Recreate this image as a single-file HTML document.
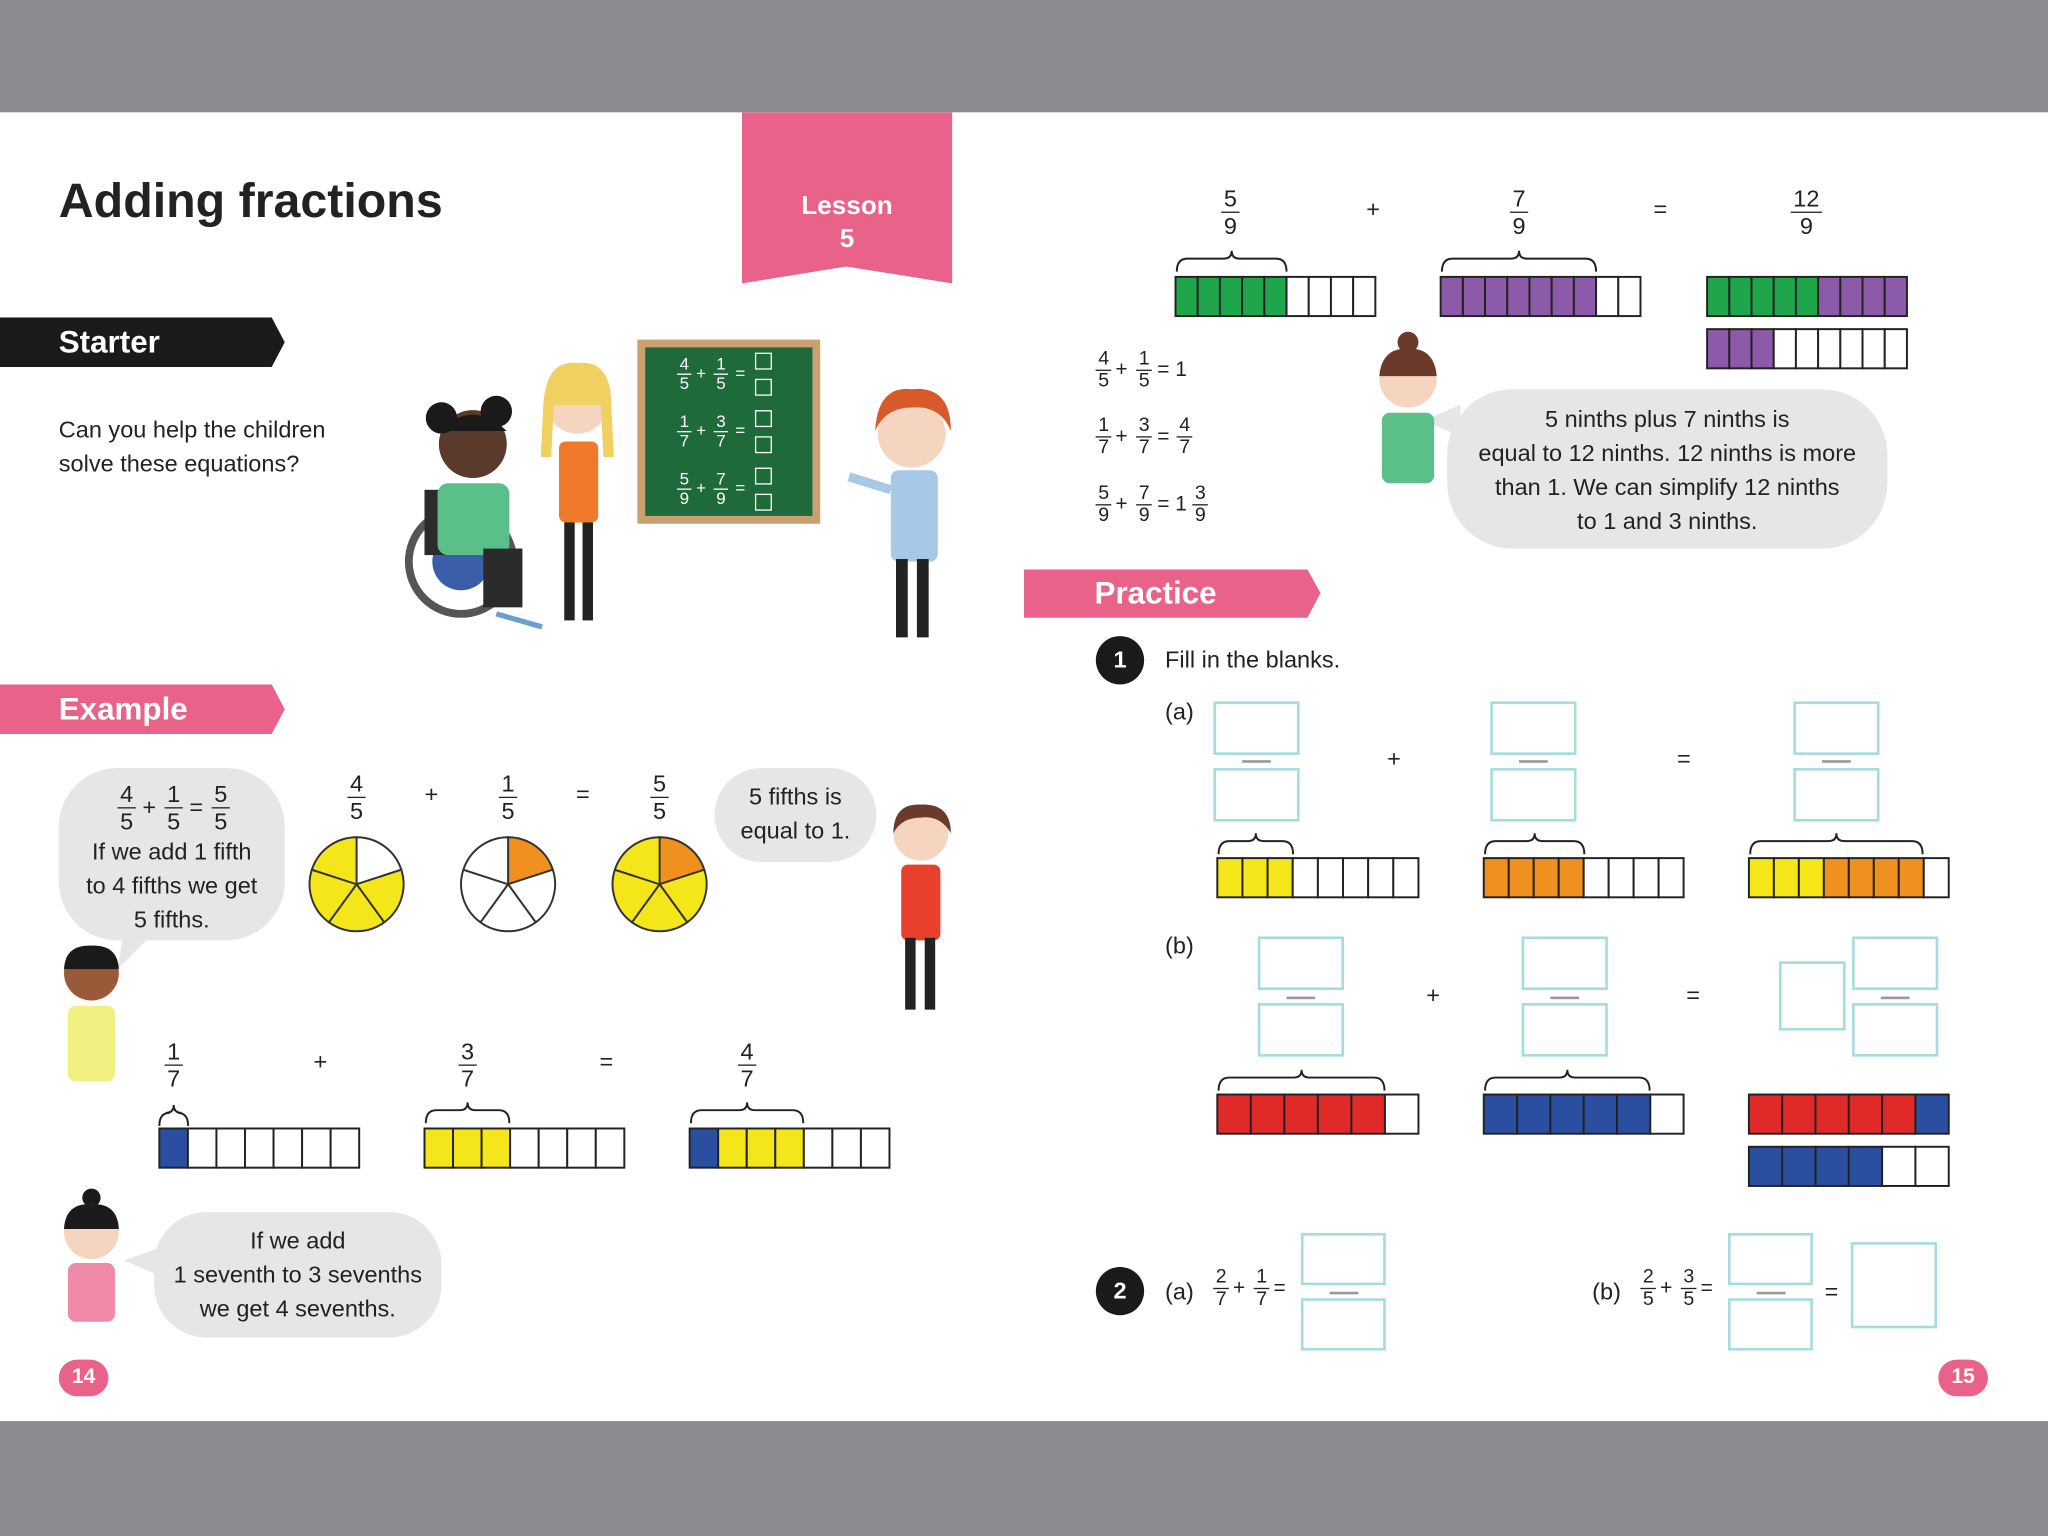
<!DOCTYPE html>
<html><head><meta charset="utf-8">
<style>
html,body{margin:0;padding:0;width:2048px;height:1536px;overflow:hidden;background:#fff;}
#s{position:absolute;left:0;top:0;width:1568px;height:1176px;transform:scale(1.306122);transform-origin:0 0;font-family:"Liberation Sans",sans-serif;color:#222;background:#fff;}
.a{position:absolute;}
.f{position:absolute;transform:translateX(-50%);display:flex;flex-direction:column;align-items:center;font-size:18px;line-height:20px;}
.f span:first-child{border-bottom:1.5px solid #222;padding:0 2px;}
.fs{font-size:15px;line-height:16px;}
.fw{color:#fff;font-size:13px;line-height:14px;}
.fw span:first-child{border-bottom:1px solid #fff;}
.t{position:absolute;font-size:18px;}
.bub{position:absolute;background:#e6e6e6;border-radius:40px;text-align:center;font-size:18px;line-height:26px;color:#222;}
.box{position:absolute;border:2px solid #a6dbe0;box-sizing:border-box;}
.dash{position:absolute;height:1.5px;background:#999;width:22px;}
</style></head><body>
<div id="s">
<div class="a" style="left:0;top:0;width:1568px;height:86px;background:#8b8c91"></div>
<div class="a" style="left:0;top:1088px;width:1568px;height:88px;background:#8b8c91"></div>

<div class="t" style="left:45px;top:133px;font-size:37px;font-weight:bold;">Adding fractions</div>
<svg class="a" style="left:568px;top:86px" width="162" height="132"><polygon points="0,0 161,0 161,131 80,118 0,131" fill="#e8628a"/></svg>
<div class="t" style="left:568px;top:146px;width:161px;text-align:center;color:#fff;font-weight:bold;font-size:20px;line-height:25px;">Lesson<br>5</div>

<svg class="a" style="left:0;top:243px" width="220" height="40"><polygon points="0,0 208,0 218,19 208,38 0,38" fill="#1a1a1a"/></svg>
<div class="t" style="left:45px;top:249px;color:#fff;font-weight:bold;font-size:24px;">Starter</div>
<div class="t" style="left:45px;top:316px;line-height:26px;">Can you help the children<br>solve these equations?</div>

<svg class="a" style="left:0;top:524px" width="220" height="40"><polygon points="0,0 208,0 218,19 208,38 0,38" fill="#e8628a"/></svg>
<div class="t" style="left:45px;top:530px;color:#fff;font-weight:bold;font-size:24px;">Example</div>

<svg class="a" style="left:784px;top:436px" width="230" height="40"><polygon points="0,0 1001,0 1001,0 0,0" fill="none"/><polygon points="0,0 217,0 227,18 217,37 0,37" fill="#e8628a"/></svg>
<div class="t" style="left:838px;top:441px;color:#fff;font-weight:bold;font-size:24px;">Practice</div>

<!-- chalkboard -->
<div class="a" style="left:488px;top:260px;width:140px;height:141px;background:#c9a070;"></div>
<div class="a" style="left:494px;top:266px;width:128px;height:129px;background:#1f6a3a;"></div>
<div class="f fw" style="left:524px;top:272px"><span>4</span><span>5</span></div><div class="t" style="left:533px;top:278px;color:#fff;font-size:13px">+</div>
<div class="f fw" style="left:552px;top:272px"><span>1</span><span>5</span></div><div class="t" style="left:563px;top:278px;color:#fff;font-size:13px">=</div>
<div class="f fw" style="left:524px;top:316px"><span>1</span><span>7</span></div><div class="t" style="left:533px;top:322px;color:#fff;font-size:13px">+</div>
<div class="f fw" style="left:552px;top:316px"><span>3</span><span>7</span></div><div class="t" style="left:563px;top:322px;color:#fff;font-size:13px">=</div>
<div class="f fw" style="left:524px;top:360px"><span>5</span><span>9</span></div><div class="t" style="left:533px;top:366px;color:#fff;font-size:13px">+</div>
<div class="f fw" style="left:552px;top:360px"><span>7</span><span>9</span></div><div class="t" style="left:563px;top:366px;color:#fff;font-size:13px">=</div>
<div class="a" style="left:578px;top:270px;width:11px;height:11px;border:1px solid #fff"></div><div class="a" style="left:578px;top:290px;width:11px;height:11px;border:1px solid #fff"></div>
<div class="a" style="left:578px;top:314px;width:11px;height:11px;border:1px solid #fff"></div><div class="a" style="left:578px;top:334px;width:11px;height:11px;border:1px solid #fff"></div>
<div class="a" style="left:578px;top:358px;width:11px;height:11px;border:1px solid #fff"></div><div class="a" style="left:578px;top:378px;width:11px;height:11px;border:1px solid #fff"></div>

<!-- characters (simplified) -->
<svg class="a" style="left:300px;top:270px" width="440" height="240">
 <!-- wheelchair girl -->
 <circle cx="53" cy="160" r="40" fill="none" stroke="#555" stroke-width="6"/><circle cx="53" cy="160" r="22" fill="#3a5fa8"/>
 <rect x="25" y="105" width="60" height="50" fill="#2b2b2b"/>
 <rect x="35" y="100" width="55" height="55" rx="8" fill="#5bbf8a"/>
 <circle cx="62" cy="70" r="26" fill="#5a3a2a"/><circle cx="38" cy="50" r="12" fill="#1a1a1a"/><circle cx="80" cy="45" r="12" fill="#1a1a1a"/><path d="M36,60 Q62,35 88,60" fill="#1a1a1a"/>
 <rect x="70" y="150" width="30" height="45" fill="#2b2b2b"/><line x1="80" y1="200" x2="115" y2="210" stroke="#6aa0d0" stroke-width="4"/>
 <!-- blonde girl -->
 <circle cx="142" cy="38" r="24" fill="#f5d5c0"/><path d="M116,40 Q118,5 142,8 Q168,5 168,40 L170,80 L162,80 L160,40 L124,40 L122,80 L114,80Z" fill="#f0d060"/>
 <rect x="128" y="68" width="30" height="62" rx="5" fill="#f07a2a"/><rect x="132" y="130" width="8" height="75" fill="#222"/><rect x="146" y="130" width="8" height="75" fill="#222"/>
 <!-- red-haired boy -->
 <circle cx="398" cy="62" r="26" fill="#f5d5c0"/><path d="M370,60 Q372,25 398,28 Q428,25 428,60 Q420,40 398,42 Q378,42 370,60Z" fill="#d65a2a"/>
 <rect x="382" y="90" width="36" height="70" rx="6" fill="#a8c8e8"/><line x1="382" y1="105" x2="350" y2="95" stroke="#a8c8e8" stroke-width="7"/>
 <rect x="386" y="158" width="9" height="60" fill="#222"/><rect x="402" y="158" width="9" height="60" fill="#222"/>
</svg>

<!-- Example pies -->
<svg class="a" style="left:230px;top:635px" width="320" height="90" id="pies"></svg>
<div class="f" style="left:273px;top:590px"><span>4</span><span>5</span></div>
<div class="t" style="left:325px;top:598px">+</div>
<div class="f" style="left:389px;top:590px"><span>1</span><span>5</span></div>
<div class="t" style="left:441px;top:598px">=</div>
<div class="f" style="left:505px;top:590px"><span>5</span><span>5</span></div>

<!-- Example bubbles -->
<div class="bub" style="left:45px;top:588px;width:173px;height:132px;border-radius:45px;"></div>
<svg class="a" style="left:85px;top:712px" width="40" height="40"><polygon points="10,0 35,0 5,30" fill="#e6e6e6"/></svg>
<div class="f" style="left:97px;top:598px"><span>4</span><span>5</span></div><div class="t" style="left:109px;top:608px">+</div>
<div class="f" style="left:133px;top:598px"><span>1</span><span>5</span></div><div class="t" style="left:145px;top:608px">=</div>
<div class="f" style="left:169px;top:598px"><span>5</span><span>5</span></div>
<div class="t" style="left:45px;top:639px;width:173px;text-align:center;line-height:26px;">If we add 1 fifth<br>to 4 fifths we get<br>5 fifths.</div>

<div class="bub" style="left:547px;top:588px;width:124px;height:72px;padding-top:9px;box-sizing:border-box;">5 fifths is<br>equal to 1.</div>
<svg class="a" style="left:660px;top:610px" width="80" height="180">
 <circle cx="45" cy="28" r="21" fill="#f5d5c0"/><path d="M24,28 Q24,5 45,6 Q68,5 68,28 Q60,14 45,16 Q30,16 24,28Z" fill="#6a3a2a"/>
 <rect x="30" y="52" width="30" height="58" rx="5" fill="#e8402a"/><rect x="33" y="108" width="8" height="55" fill="#222"/><rect x="48" y="108" width="8" height="55" fill="#222"/>
</svg>
<svg class="a" style="left:40px;top:720px" width="60" height="110">
 <circle cx="30" cy="25" r="21" fill="#9a5a3a"/><path d="M9,22 Q10,3 30,4 Q50,3 51,22Z" fill="#1a1a1a"/>
 <rect x="12" y="50" width="36" height="58" rx="6" fill="#f0f080"/>
</svg>

<!-- sevenths -->
<div class="f" style="left:133px;top:795px"><span>1</span><span>7</span></div>
<div class="t" style="left:240px;top:803px">+</div>
<div class="f" style="left:358px;top:795px"><span>3</span><span>7</span></div>
<div class="t" style="left:459px;top:803px">=</div>
<div class="f" style="left:572px;top:795px"><span>4</span><span>7</span></div>

<div class="bub" style="left:118px;top:928px;width:220px;height:96px;padding-top:9px;box-sizing:border-box;">If we add<br>1 seventh to 3 sevenths<br>we get 4 sevenths.</div>
<svg class="a" style="left:95px;top:955px" width="30" height="30"><polygon points="28,0 28,22 0,10" fill="#e6e6e6"/></svg>
<svg class="a" style="left:40px;top:905px" width="60" height="110">
 <circle cx="30" cy="12" r="7" fill="#1a1a1a"/><circle cx="30" cy="38" r="21" fill="#f5d5c0"/><path d="M9,36 Q10,16 30,17 Q50,16 51,36Z" fill="#1a1a1a"/>
 <rect x="12" y="62" width="36" height="45" rx="6" fill="#f08aa8"/>
</svg>

<div class="a" style="left:45px;top:1041px;width:38px;height:28px;border-radius:14px;background:#e8628a;color:#fff;font-weight:bold;font-size:16px;text-align:center;line-height:28px;">14</div>
<div class="a" style="left:1484px;top:1041px;width:38px;height:28px;border-radius:14px;background:#e8628a;color:#fff;font-weight:bold;font-size:16px;text-align:center;line-height:28px;">15</div>

<!-- right top -->
<div class="f" style="left:942px;top:142px"><span>5</span><span>9</span></div>
<div class="t" style="left:1046px;top:150px">+</div>
<div class="f" style="left:1163px;top:142px"><span>7</span><span>9</span></div>
<div class="t" style="left:1266px;top:150px">=</div>
<div class="f" style="left:1383px;top:142px"><span>12</span><span>9</span></div>

<div class="f fs" style="left:845px;top:267px"><span>4</span><span>5</span></div><div class="t" style="left:854px;top:275px;font-size:16px">+</div>
<div class="f fs" style="left:876px;top:267px"><span>1</span><span>5</span></div><div class="t" style="left:886px;top:275px;font-size:16px">= 1</div>
<div class="f fs" style="left:845px;top:318px"><span>1</span><span>7</span></div><div class="t" style="left:854px;top:326px;font-size:16px">+</div>
<div class="f fs" style="left:876px;top:318px"><span>3</span><span>7</span></div><div class="t" style="left:886px;top:326px;font-size:16px">=</div>
<div class="f fs" style="left:907px;top:318px"><span>4</span><span>7</span></div>
<div class="f fs" style="left:845px;top:370px"><span>5</span><span>9</span></div><div class="t" style="left:854px;top:378px;font-size:16px">+</div>
<div class="f fs" style="left:876px;top:370px"><span>7</span><span>9</span></div><div class="t" style="left:886px;top:378px;font-size:16px">= 1</div>
<div class="f fs" style="left:919px;top:370px"><span>3</span><span>9</span></div>

<div class="bub" style="left:1108px;top:298px;width:337px;height:122px;border-radius:50px;padding-top:10px;box-sizing:border-box;">5 ninths plus 7 ninths is<br>equal to 12 ninths. 12 ninths is more<br>than 1. We can simplify 12 ninths<br>to 1 and 3 ninths.</div>
<svg class="a" style="left:1090px;top:310px" width="30" height="30"><polygon points="28,0 28,24 0,12" fill="#e6e6e6"/></svg>
<svg class="a" style="left:1048px;top:252px" width="60" height="120">
 <circle cx="30" cy="10" r="8" fill="#6a3a2a"/><circle cx="30" cy="38" r="22" fill="#f5d5c0"/><path d="M8,36 Q10,14 30,15 Q50,14 52,36Z" fill="#6a3a2a"/>
 <rect x="10" y="64" width="40" height="54" rx="6" fill="#5bbf8a"/>
</svg>

<!-- practice -->
<div class="a" style="left:839px;top:487px;width:37px;height:37px;border-radius:50%;background:#1a1a1a;color:#fff;font-weight:bold;text-align:center;line-height:37px;font-size:18px">1</div>
<div class="t" style="left:892px;top:495px">Fill in the blanks.</div>
<div class="t" style="left:892px;top:535px">(a)</div>
<div class="t" style="left:892px;top:714px">(b)</div>
<div class="t" style="left:1062px;top:571px">+</div>
<div class="t" style="left:1284px;top:571px">=</div>
<div class="t" style="left:1092px;top:752px">+</div>
<div class="t" style="left:1291px;top:752px">=</div>

<div class="box" style="left:929px;top:537px;width:66px;height:41px"></div><div class="dash" style="left:951px;top:582px"></div><div class="box" style="left:929px;top:588px;width:66px;height:41px"></div>
<div class="box" style="left:1141px;top:537px;width:66px;height:41px"></div><div class="dash" style="left:1163px;top:582px"></div><div class="box" style="left:1141px;top:588px;width:66px;height:41px"></div>
<div class="box" style="left:1373px;top:537px;width:66px;height:41px"></div><div class="dash" style="left:1395px;top:582px"></div><div class="box" style="left:1373px;top:588px;width:66px;height:41px"></div>

<div class="box" style="left:963px;top:717px;width:66px;height:41px"></div><div class="dash" style="left:985px;top:763px"></div><div class="box" style="left:963px;top:768px;width:66px;height:41px"></div>
<div class="box" style="left:1165px;top:717px;width:66px;height:41px"></div><div class="dash" style="left:1187px;top:763px"></div><div class="box" style="left:1165px;top:768px;width:66px;height:41px"></div>
<div class="box" style="left:1362px;top:736px;width:51px;height:53px"></div>
<div class="box" style="left:1418px;top:717px;width:66px;height:41px"></div><div class="dash" style="left:1440px;top:763px"></div><div class="box" style="left:1418px;top:768px;width:66px;height:41px"></div>

<div class="a" style="left:839px;top:970px;width:37px;height:37px;border-radius:50%;background:#1a1a1a;color:#fff;font-weight:bold;text-align:center;line-height:37px;font-size:18px">2</div>
<div class="t" style="left:892px;top:979px">(a)</div>
<div class="f fs" style="left:935px;top:970px"><span>2</span><span>7</span></div><div class="t" style="left:944px;top:978px;font-size:16px">+</div>
<div class="f fs" style="left:966px;top:970px"><span>1</span><span>7</span></div><div class="t" style="left:975px;top:978px;font-size:16px">=</div>
<div class="box" style="left:996px;top:944px;width:65px;height:40px"></div><div class="dash" style="left:1018px;top:989px"></div><div class="box" style="left:996px;top:994px;width:65px;height:40px"></div>
<div class="t" style="left:1219px;top:979px">(b)</div>
<div class="f fs" style="left:1262px;top:970px"><span>2</span><span>5</span></div><div class="t" style="left:1271px;top:978px;font-size:16px">+</div>
<div class="f fs" style="left:1293px;top:970px"><span>3</span><span>5</span></div><div class="t" style="left:1302px;top:978px;font-size:16px">=</div>
<div class="box" style="left:1323px;top:944px;width:65px;height:40px"></div><div class="dash" style="left:1345px;top:989px"></div><div class="box" style="left:1323px;top:994px;width:65px;height:40px"></div>
<div class="t" style="left:1397px;top:979px">=</div>
<div class="box" style="left:1417px;top:951px;width:66px;height:66px"></div>

<svg class="a" style="left:0;top:0" width="1568" height="1176" id="bars"></svg>
</div>
<script>
var NS="http://www.w3.org/2000/svg";
function el(p,t,a){var e=document.createElementNS(NS,t);for(var k in a)e.setAttribute(k,a[k]);p.appendChild(e);return e;}
var B=document.getElementById('bars');
var G='#1fa64a',P='#8b5aa8',W='#fff',Y='#f5e61a',O='#f0901e',R='#e02a2a',U='#2a4fa0';
function bar(x,y,w,cols){var n=cols.length,cw=w/n;for(var i=0;i<n;i++)el(B,'rect',{x:x+i*cw,y:y,width:cw,height:30,fill:cols[i],stroke:'#222','stroke-width':1.5});}
function rep(c,n){var a=[];for(var i=0;i<n;i++)a.push(c);return a;}
function br(x1,x2,y){var m=(x1+x2)/2;el(B,'path',{d:'M'+x1+','+(y+10)+' Q'+x1+','+y+' '+(x1+8)+','+y+' L'+(m-6)+','+y+' Q'+m+','+y+' '+m+','+(y-6)+' Q'+m+','+y+' '+(m+6)+','+y+' L'+(x2-8)+','+y+' Q'+x2+','+y+' '+x2+','+(y+10),fill:'none',stroke:'#222','stroke-width':1.5});}
bar(900,212,153,rep(G,5).concat(rep(W,4)));br(901,985,198);
bar(1103,212,153,rep(P,7).concat(rep(W,2)));br(1104,1222,198);
bar(1307,212,153,rep(G,5).concat(rep(P,4)));
bar(1307,252,153,rep(P,3).concat(rep(W,6)));
bar(122,864,153,[U].concat(rep(W,6)));br(122,144,852);
bar(325,864,153,rep(Y,3).concat(rep(W,4)));br(326,390,850);
bar(528,864,153,[U].concat(rep(Y,3),rep(W,3)));br(529,615,850);
bar(932,657,154,rep(Y,3).concat(rep(W,5)));br(933,990,644);
bar(1136,657,153,rep(O,4).concat(rep(W,4)));br(1137,1213,644);
bar(1339,657,153,rep(Y,3).concat(rep(O,4),[W]));br(1340,1472,644);
bar(932,838,154,rep(R,5).concat([W]));br(933,1060,825);
bar(1136,838,153,rep(U,5).concat([W]));br(1137,1263,825);
bar(1339,838,153,rep(R,5).concat([U]));
bar(1339,878,153,rep(U,4).concat(rep(W,2)));
var PS=document.getElementById('pies');
function pie(cx,cols){for(var i=0;i<5;i++){var a1=(-90+i*72)*Math.PI/180,a2=(-90+(i+1)*72)*Math.PI/180,r=36;
el(PS,'path',{d:'M'+cx+',42 L'+(cx+r*Math.cos(a1))+','+(42+r*Math.sin(a1))+' A36,36 0 0,1 '+(cx+r*Math.cos(a2))+','+(42+r*Math.sin(a2))+' Z',fill:cols[i],stroke:'#333','stroke-width':1.5});}}
pie(43,[W,Y,Y,Y,Y]);pie(159,[O,W,W,W,W]);pie(275,[O,Y,Y,Y,Y]);
</script>
</body></html>
